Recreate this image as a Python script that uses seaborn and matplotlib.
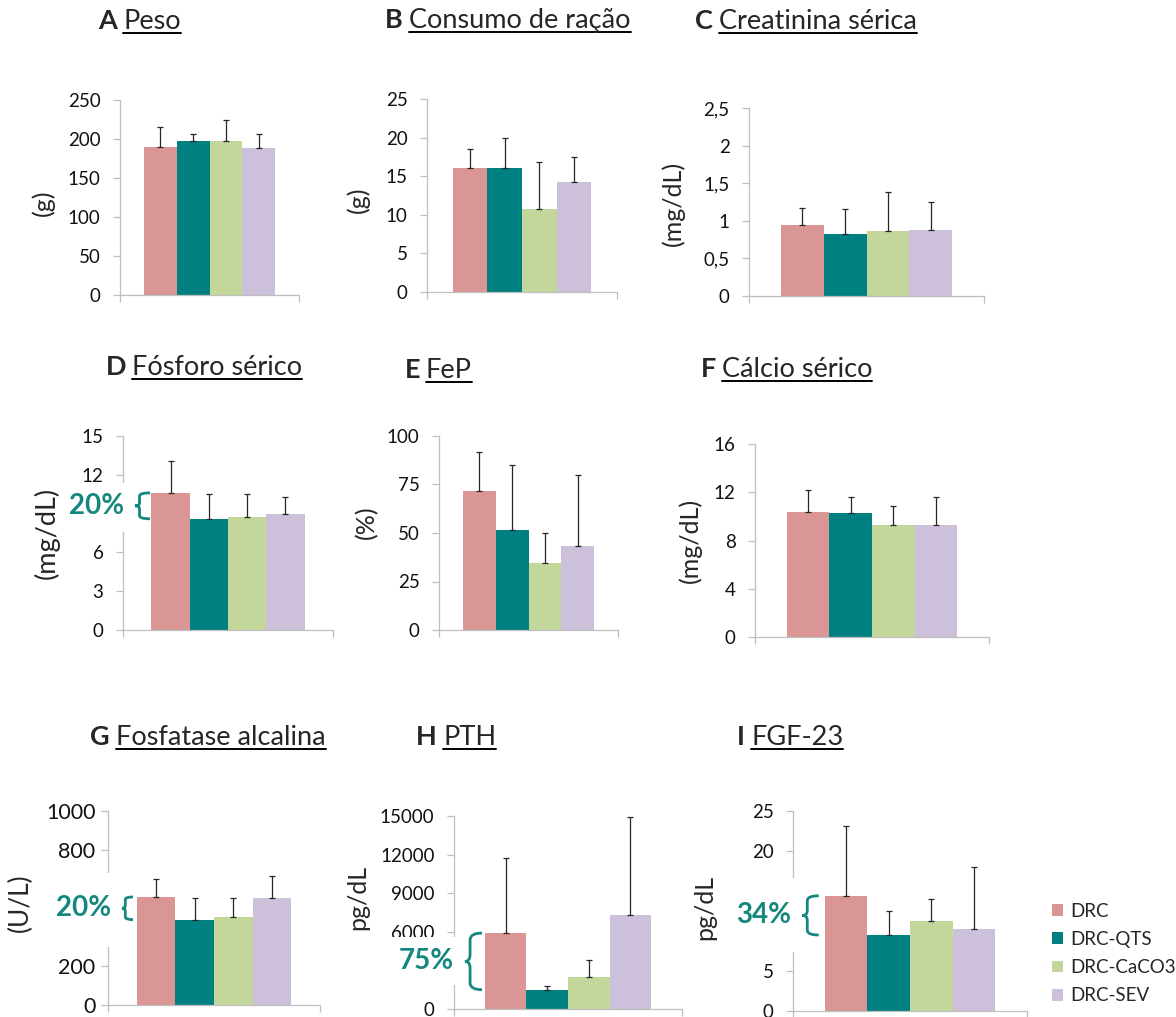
import matplotlib
matplotlib.use("Agg")
import numpy as np
import pandas as pd
import matplotlib.pyplot as plt
import matplotlib.transforms as mtransforms
from matplotlib.lines import Line2D
from matplotlib.patches import Rectangle, PathPatch
from matplotlib.path import Path
from matplotlib.ticker import FuncFormatter
import seaborn as sns

W, H = 1176, 1017

GRUPOS = ["DRC", "DRC-QTS", "DRC-CaCO3", "DRC-SEV"]
CORES = ["#D99694", "#008080", "#C4D79B", "#CCC0DA"]
TEAL = "#14877f"
CINZA = "#BFBFBF"

# valores: média e desvio (só a barra superior)
peso_media = [190, 198, 197, 188.5]
peso_dp = [25.5, 9, 27, 18.5]
racao_media = [16.1, 16.0, 10.7, 14.2]
racao_dp = [2.4, 3.9, 6.1, 3.35]
creat_media = [0.95, 0.83, 0.87, 0.875]
creat_dp = [0.22, 0.33, 0.51, 0.37]
fosforo_media = [10.6, 8.6, 8.7, 9.0]
fosforo_dp = [2.5, 1.9, 1.8, 1.3]
fep_media = [71.8, 51.3, 34.7, 43.4]
fep_dp = [19.7, 33.7, 15.3, 36.3]
calcio_media = [10.4, 10.3, 9.3, 9.3]
calcio_dp = [1.8, 1.3, 1.6, 2.3]
fa_media = [557, 440, 453, 553]
fa_dp = [91, 113, 100, 112]
pth_media = [5900, 1500, 2460, 7340]
pth_dp = [5840, 290, 1350, 7610]
fgf_media = [14.4, 9.5, 11.2, 10.2]
fgf_dp = [8.7, 3.0, 2.8, 7.8]

peso_ticks = [0, 50, 100, 150, 200, 250]
racao_ticks = [0, 5, 10, 15, 20, 25]
creat_ticks = [0, 0.5, 1, 1.5, 2, 2.5]
fosforo_ticks = [0, 3, 6, 9, 12, 15]
fep_ticks = [0, 25, 50, 75, 100]
calcio_ticks = [0, 4, 8, 12, 16]
fa_ticks = [0, 200, 400, 600, 800, 1000]
pth_ticks = [0, 3000, 6000, 9000, 12000, 15000]
fgf_ticks = [0, 5, 10, 15, 20, 25]

letras = ["A", "B", "C", "D", "E", "F", "G", "H", "I"]
nomes = ["Peso", "Consumo de ração", "Creatinina sérica", "Fósforo sérico", "FeP",
         "Cálcio sérico", "Fosfatase alcalina", "PTH", "FGF-23"]
unidades = ["(g)", "(g)", "(mg/dL)", "(mg/dL)", "(%)", "(mg/dL)", "(U/L)", "pg/dL", "pg/dL"]
medias = [peso_media, racao_media, creat_media, fosforo_media, fep_media,
          calcio_media, fa_media, pth_media, fgf_media]
dps = [peso_dp, racao_dp, creat_dp, fosforo_dp, fep_dp, calcio_dp, fa_dp, pth_dp, fgf_dp]
ticks = [peso_ticks, racao_ticks, creat_ticks, fosforo_ticks, fep_ticks,
         calcio_ticks, fa_ticks, pth_ticks, fgf_ticks]

# redução DRC -> DRC-QTS anotada com chave
destaques = {"D": "20%", "G": "20%", "H": "75%", "I": "34%"}

# layout em pixels: caixa do eixo (esq, topo, dir, base), rótulo y, título
caixas = [(120, 100, 299, 295), (427, 99, 617, 292), (749, 108, 984, 296),
          (123, 436, 333, 630), (439, 436, 618, 630), (755, 444, 989, 637),
          (108, 811, 320, 1005), (454, 816, 682, 1009), (793, 811, 1027, 1011)]
pos_ylabel = [(43, 203), (358, 200), (673, 203), (47, 533), (367, 522),
              (690, 540), (20, 903), (358, 897), (705, 907)]
tam_ylabel = [18, 18, 18, 19.5, 18, 18, 19, 18, 18]
tam_ticks = [13.5, 13.5, 13.5, 13.5, 13.5, 13.5, 15.5, 13.5, 13.5]
pad_ticks = [9, 9, 9, 9, 9, 9, 4, 9, 9]
y_titulo = [29, 28, 29, 375, 378, 377, 745, 745, 745]
pos_nome = [123, 409, 719, 132, 426, 722, 116, 443, 751]
# faixa do eixo y escondida atrás da anotação (unid. de dados)
mascaras = {"D": (7.6, 11.4), "G": (300, 680), "H": (1840, 5570), "I": (7.4, 16.6)}

sns.set_style("white")
plt.rcParams["font.family"] = ["Lato", "DejaVu Sans"]

fig = plt.figure(figsize=(W / 100, H / 100), dpi=100)


def formatador(faixa):
    # vírgula decimal; rótulos atrás da anotação ficam vazios
    def f(v, pos):
        if faixa and faixa[0] < v < faixa[1]:
            return ""
        return f"{v:g}".replace(".", ",")
    return FuncFormatter(f)


def chave(ax, topo, base, xl, xr, cor):
    tr = mtransforms.blended_transform_factory(ax.transAxes, ax.transData)
    xm = xl + 0.3 * (xr - xl)
    meio = (topo + base) / 2
    d = 0.12 * (topo - base)
    verts = [(xr, topo), (xm, topo), (xm, topo - d),
             (xm, meio + d), (xm, meio), (xl, meio),
             (xm, meio), (xm, meio - d),
             (xm, base + d), (xm, base), (xr, base)]
    codes = [Path.MOVETO, Path.CURVE3, Path.CURVE3,
             Path.LINETO, Path.CURVE3, Path.CURVE3,
             Path.CURVE3, Path.CURVE3,
             Path.LINETO, Path.CURVE3, Path.CURVE3]
    ax.add_patch(PathPatch(Path(verts, codes), transform=tr, fill=False,
                           edgecolor=cor, lw=2, clip_on=False, zorder=6))
    return tr, meio


titulos = []
for i, letra in enumerate(letras):
    esq, topo, dir_, base = caixas[i]
    ax = fig.add_axes([esq / W, 1 - base / H, (dir_ - esq) / W, (base - topo) / H])
    df = pd.DataFrame({"painel": [nomes[i]] * 4, "grupo": GRUPOS, "valor": medias[i]})
    sns.barplot(data=df, x="painel", y="valor", hue="grupo", hue_order=GRUPOS,
                palette=CORES, saturation=1, width=0.73, errorbar=None,
                linewidth=0, ax=ax, legend=(letra == "I"))
    barras = [c.patches[0] for c in ax.containers]
    xs = [b.get_x() + b.get_width() / 2 for b in barras]
    ax.errorbar(xs, medias[i], yerr=[np.zeros(4), dps[i]], fmt="none",
                ecolor="#262626", elinewidth=0.9, capsize=2.5, capthick=0.9, zorder=3)

    ax.set_xlim(-0.5, 0.5)
    ax.set_ylim(0, ticks[i][-1])
    ax.set_xticks([-0.5, 0.5], ["", ""])
    ax.set_yticks(ticks[i])
    ax.yaxis.set_major_formatter(formatador(mascaras.get(letra)))
    ax.set_xlabel("")
    ax.set_ylabel(unidades[i], fontsize=tam_ylabel[i], va="center")
    lx, ly = pos_ylabel[i]
    ax.yaxis.set_label_coords((lx - esq) / (dir_ - esq), (base - ly) / (base - topo))
    for s in ["top", "right"]:
        ax.spines[s].set_visible(False)
    for s in ["left", "bottom"]:
        ax.spines[s].set_color(CINZA)
        ax.spines[s].set_linewidth(0.9)
    ax.tick_params(axis="y", left=True, length=5, width=0.9, color=CINZA,
                   pad=pad_ticks[i], labelsize=tam_ticks[i], labelcolor="#111111")
    ax.tick_params(axis="x", bottom=True, length=5, width=0.9, color=CINZA)

    if letra in destaques:
        y0, y1 = mascaras[letra]
        trm = mtransforms.blended_transform_factory(ax.transAxes, ax.transData)
        ax.add_patch(Rectangle((-0.27, y0), 0.29, y1 - y0, transform=trm,
                               facecolor="white", edgecolor="none",
                               clip_on=False, zorder=5))
        xl, xr = {"D": (0.057, 0.129), "G": (0.066, 0.118),
                  "H": (0.048, 0.123), "I": (0.04, 0.11)}[letra]
        tr, meio = chave(ax, medias[i][0], medias[i][1], xl, xr, TEAL)
        ax.annotate(destaques[letra], xy=(xl, meio), xycoords=tr,
                    xytext=(-11, 0), textcoords="offset pixels",
                    ha="right", va="center", fontsize=20, fontweight="bold",
                    color=TEAL, zorder=7, annotation_clip=False)

    if letra == "I":
        sns.move_legend(ax, "center left", bbox_to_anchor=((1052 - esq) / (dir_ - esq), 0.2875),
                        frameon=False, title=None, fontsize=13.5, handlelength=0.6,
                        handleheight=0.6, handletextpad=0.4, labelspacing=0.6,
                        borderpad=0, borderaxespad=0)

    py = y_titulo[i]
    fig.text((pos_nome[i] - 6) / W, 1 - py / H, letra, fontsize=19.5,
             fontweight="bold", va="baseline", ha="right")
    t = fig.text(pos_nome[i] / W, 1 - py / H, nomes[i], fontsize=19.5, va="baseline")
    titulos.append((t, py))

# sublinhado dos títulos
fig.canvas.draw()
renderer = fig.canvas.get_renderer()
for t, py in titulos:
    bb = t.get_window_extent(renderer)
    yl = (H - py) - 4
    fig.add_artist(Line2D([bb.x0 / W, bb.x1 / W], [yl / H, yl / H],
                          transform=fig.transFigure, color="black", lw=1.4))

fig.savefig("out.png", dpi=100)
